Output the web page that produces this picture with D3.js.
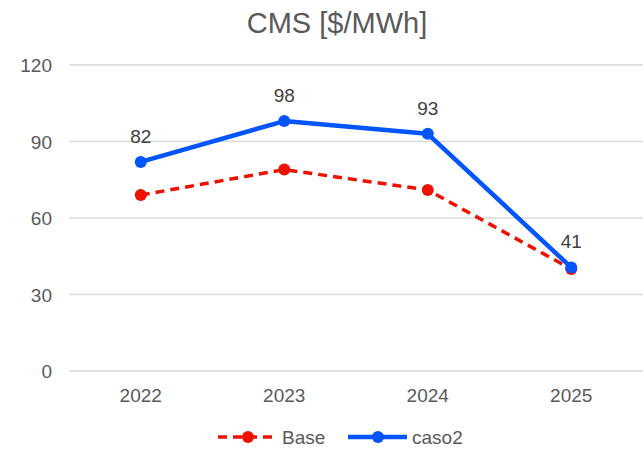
<!DOCTYPE html>
<html>
<head>
<meta charset="utf-8">
<script src="https://cdn.jsdelivr.net/npm/d3@7"></script>
<style>
  html, body { margin: 0; padding: 0; background: #fff; }
  svg { display: block; }
  text { font-family: "Liberation Sans", Arial, sans-serif; }
</style>
</head>
<body>
<svg id="chart" width="643" height="451"></svg>
<script>
const years = ["2022", "2023", "2024", "2025"];
const baseValues = [69, 79, 71, 40];
const caso2Values = [82, 98, 93, 40.6];
const yTicks = [0, 30, 60, 90, 120];

const series = [
  { name: "Base", values: baseValues, color: "#ee1100", width: 3.5, dash: "9,6", labels: false },
  { name: "caso2", values: caso2Values, color: "#0055ff", width: 4.5, dash: null, labels: true },
];

const width = 643, height = 451;
const margin = { top: 65, right: 0, bottom: 80, left: 69 };
const innerWidth = width - margin.left - margin.right;
const innerHeight = height - margin.top - margin.bottom;

const svg = d3.select("#chart");

svg.append("text")
  .attr("x", 337)
  .attr("y", 33)
  .attr("text-anchor", "middle")
  .attr("font-size", 29)
  .attr("fill", "#595959")
  .text("CMS [$/MWh]");

const g = svg.append("g").attr("transform", `translate(${margin.left},${margin.top})`);

const xScale = d3.scaleBand().domain(years).range([0, innerWidth]);
const yScale = d3.scaleLinear().domain([0, 120]).range([innerHeight, 0]);

// gridlines
g.selectAll(".grid")
  .data(yTicks)
  .enter()
  .append("line")
  .attr("class", "grid")
  .attr("x1", 0)
  .attr("x2", innerWidth)
  .attr("y1", (d) => yScale(d))
  .attr("y2", (d) => yScale(d))
  .attr("stroke", "#d9d9d9")
  .attr("stroke-width", 1.3);

// y labels
g.selectAll(".y-label")
  .data(yTicks)
  .enter()
  .append("text")
  .attr("class", "y-label")
  .attr("x", -17)
  .attr("y", (d) => yScale(d) + 7)
  .attr("text-anchor", "end")
  .attr("font-size", 19)
  .attr("fill", "#595959")
  .text((d) => d);

// x labels
g.selectAll(".x-label")
  .data(years)
  .enter()
  .append("text")
  .attr("class", "x-label")
  .attr("x", (d) => xScale(d) + xScale.bandwidth() / 2)
  .attr("y", innerHeight + 31)
  .attr("text-anchor", "middle")
  .attr("font-size", 19)
  .attr("fill", "#595959")
  .text((d) => d);

const cx = (i) => xScale(years[i]) + xScale.bandwidth() / 2;

const line = d3.line()
  .x((d, i) => cx(i))
  .y((d) => yScale(d));

series.forEach((s) => {
  g.append("path")
    .attr("d", line(s.values))
    .attr("fill", "none")
    .attr("stroke", s.color)
    .attr("stroke-width", s.width)
    .attr("stroke-dasharray", s.dash)
    .attr("stroke-linejoin", "round");

  g.selectAll(null)
    .data(s.values)
    .enter()
    .append("circle")
    .attr("cx", (d, i) => cx(i))
    .attr("cy", (d) => yScale(d))
    .attr("r", 6)
    .attr("fill", s.color);

  if (s.labels) {
    g.selectAll(null)
      .data(s.values)
      .enter()
      .append("text")
      .attr("x", (d, i) => cx(i))
      .attr("y", (d) => yScale(d) - 19)
      .attr("text-anchor", "middle")
      .attr("font-size", 19)
      .attr("fill", "#404040")
      .text((d) => Math.round(d));
  }
});

// legend
const legendItems = [
  { s: series[0], x: 218 },
  { s: series[1], x: 348 },
];
const legendY = 437;
legendItems.forEach(({ s, x }) => {
  const lg = svg.append("g").attr("transform", `translate(${x},${legendY})`);
  lg.append("line")
    .attr("x1", 0).attr("x2", 59)
    .attr("stroke", s.color)
    .attr("stroke-width", s.width)
    .attr("stroke-dasharray", s.dash);
  lg.append("circle").attr("cx", 30).attr("r", 6).attr("fill", s.color);
  lg.append("text")
    .attr("x", 64)
    .attr("y", 7)
    .attr("font-size", 19)
    .attr("fill", "#595959")
    .text(s.name);
});
</script>
</body>
</html>
